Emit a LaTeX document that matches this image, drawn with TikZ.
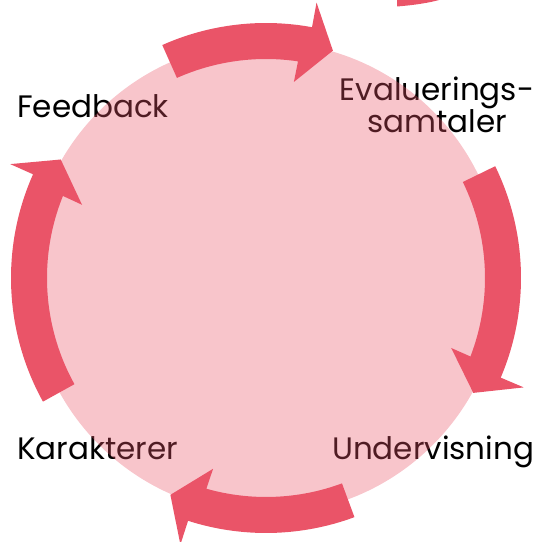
\documentclass[tikz,border=0pt]{standalone}
\usepackage{fontspec}
\setmainfont{Poppins}
\definecolor{arrowred}{RGB}{234,84,104}
\newcommand\ringarrow[2]{%
  \fill[arrowfill] ([shift={(C)}]#1:255) arc[start angle=#1, end angle=#2+6, radius=255]
    -- ([shift={(C)}]#2+6:280) -- ([shift={(C)}]#2:237) -- ([shift={(C)}]#2+8.3:198)
    -- ([shift={(C)}]#2+8:219) arc[start angle=#2+8, end angle=#1, radius=219] -- cycle;}
\begin{document}
\begin{tikzpicture}[x=1pt,y=1pt,
  lbl/.style={inner sep=0pt, font=\fontsize{31}{31}\selectfont, text=black},
  arrowfill/.style={fill=arrowred},
  disc/.style={fill=arrowred, fill opacity=0.34}]
\useasboundingbox (0,0) rectangle (538,542);
\coordinate (C) at (266,264);
% labels (under the translucent disc)
\node[lbl, anchor=base west] (feedback) at (17,424) {Feedback};
\node[lbl, anchor=base, align=center] (evaluering) at (437,409) {Evaluerings-\\samtaler};
\node[lbl, anchor=base west] (karakterer) at (17,82) {Karakterer};
\node[lbl, anchor=base west] (undervisning) at (332,82) {Undervisning};
% disc
\fill[disc] (C) circle[radius=236];
% cycle arrows
\ringarrow{114}{73.6}
\ringarrow{26}{-29}
\ringarrow{-69.7}{-113.8}
\ringarrow{209}{150}
% fragment at top right
\fill[arrowfill] (397,542) -- (397,535.5) .. controls (415,537) and (428,539) .. (439,542) -- cycle;
\end{tikzpicture}
\end{document}
